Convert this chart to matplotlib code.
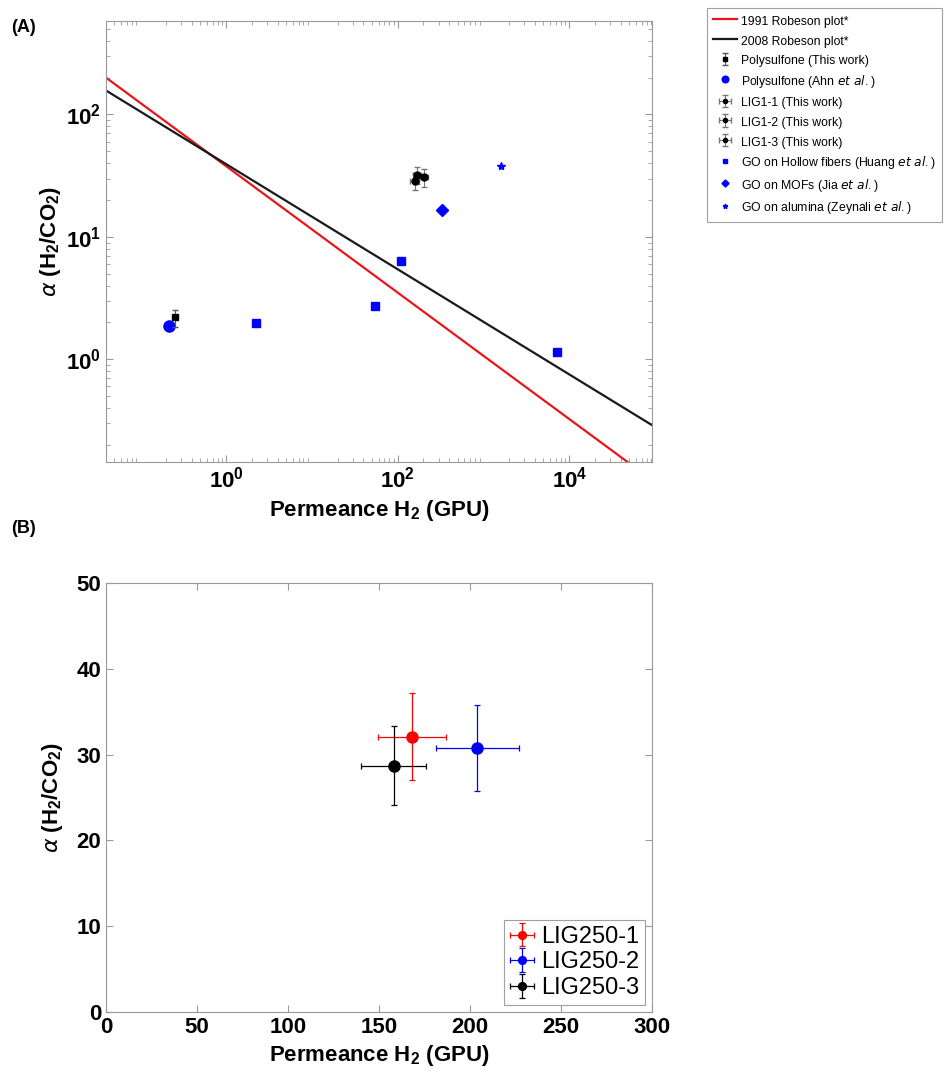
import matplotlib.pyplot as plt

plt.rcParams['font.family'] = ['Liberation Sans', 'DejaVu Sans']
plt.rcParams['mathtext.fontset'] = 'custom'
plt.rcParams['mathtext.rm'] = 'Liberation Sans'
plt.rcParams['mathtext.bf'] = 'Liberation Sans:bold'

# Robeson upper bounds (end points)
robeson_1991_x = [0.04, 1e5]
robeson_1991_y = [200, 0.099]
robeson_2008_x = [0.04, 1e5]
robeson_2008_y = [157, 0.28]

# literature / this work, panel A
psf_this_x, psf_this_y, psf_this_yerr = [0.255], [2.2], [0.35]
psf_ahn_x, psf_ahn_y = [0.214], [1.88]
huang_x = [2.26, 54, 110, 7100]
huang_y = [1.97, 2.71, 6.3, 1.14]
jia_x, jia_y = [333], [16.5]
zeynali_x, zeynali_y = [1620], [38]

# LIG membranes (panel B, also shown in panel A)
lig_names = ['LIG250-1', 'LIG250-2', 'LIG250-3']
lig_names_a = ['LIG1-1 (This work)', 'LIG1-2 (This work)', 'LIG1-3 (This work)']
lig_perm = [168, 204, 158]
lig_perm_err = [18.6, 22.7, 17.7]
lig_sel = [32.1, 30.8, 28.7]
lig_sel_err = [5.1, 5.0, 4.6]
lig_colors = ['red', 'blue', 'black']

fig = plt.figure(figsize=(9.5, 10.84), dpi=100)

# ---------- panel A ----------
ax1 = fig.add_axes([0.1116, 0.5738, 0.5747, 0.4068])
ax1.set_xscale('log')
ax1.set_yscale('log')
h = []
h += ax1.plot(robeson_1991_x, robeson_1991_y, color='#e8161c', lw=1.6, label='1991 Robeson plot*')
h += ax1.plot(robeson_2008_x, robeson_2008_y, color='#1a1a1a', lw=1.6, label='2008 Robeson plot*')
h.append(ax1.errorbar(psf_this_x, psf_this_y, yerr=psf_this_yerr, fmt='s', color='black', ms=5,
                      ecolor='#555555', elinewidth=0.8, capsize=2, label='Polysulfone (This work)', zorder=4))
h += ax1.plot(psf_ahn_x, psf_ahn_y, 'o', color='blue', ms=8, ls='none', label='Polysulfone (Ahn $\\it{et\\ al.}$)')
for i in range(3):
    h.append(ax1.errorbar([lig_perm[i]], [lig_sel[i]], xerr=[lig_perm_err[i]], yerr=[lig_sel_err[i]],
                          fmt='o', color='black', ms=5, ecolor='#777777', elinewidth=0.8, capsize=2,
                          label=lig_names_a[i], zorder=4))
h += ax1.plot(huang_x, huang_y, 's', color='blue', ms=6, ls='none', label='GO on Hollow fibers (Huang $\\it{et\\ al.}$)')
h += ax1.plot(jia_x, jia_y, 'D', color='blue', ms=6, ls='none', label='GO on MOFs (Jia $\\it{et\\ al.}$)')
h += ax1.plot(zeynali_x, zeynali_y, '*', color='blue', ms=6, ls='none', label='GO on alumina (Zeynali $\\it{et\\ al.}$)')
ax1.set_xlim(0.04, 9.2e4)
ax1.set_ylim(0.145, 580)
ax1.set_xticks([1, 100, 1e4])
ax1.set_yticks([1, 10, 100])
ax1.set_xlabel('Permeance H$_\\mathbf{2}$ (GPU)', fontsize=16, fontweight='bold', labelpad=4)
ax1.set_ylabel('$\\alpha$ (H$_\\mathbf{2}$/CO$_\\mathbf{2}$)', fontsize=16, fontweight='bold', labelpad=2)
leg1 = ax1.legend(handles=h, loc='upper left', bbox_to_anchor=(1.1, 1.03), fontsize=8.8, frameon=True,
                  fancybox=False, edgecolor='#888888', markerscale=0.6, handlelength=2.0,
                  handleheight=1.4, handletextpad=0.3, labelspacing=0.45, borderpad=0.5,
                  borderaxespad=0)
leg1.get_frame().set_linewidth(0.8)

# ---------- panel B ----------
ax2 = fig.add_axes([0.1116, 0.0664, 0.5747, 0.3958])
for i in range(3):
    ax2.errorbar([lig_perm[i]], [lig_sel[i]], xerr=[lig_perm_err[i]], yerr=[lig_sel_err[i]],
                 fmt='o', color=lig_colors[i], ms=8, elinewidth=0.9, capsize=2.5,
                 capthick=0.9, label=lig_names[i])
ax2.set_xlim(0, 300)
ax2.set_ylim(0, 50)
ax2.set_xticks(range(0, 301, 50))
ax2.set_yticks(range(0, 51, 10))
ax2.set_xlabel('Permeance H$_\\mathbf{2}$ (GPU)', fontsize=16, fontweight='bold', labelpad=4)
ax2.set_ylabel('$\\alpha$ (H$_\\mathbf{2}$/CO$_\\mathbf{2}$)', fontsize=16, fontweight='bold', labelpad=8)
leg2 = ax2.legend(loc='lower right', fontsize=17, frameon=True, fancybox=False,
                  edgecolor='#888888', handlelength=1.0, handletextpad=0.3,
                  labelspacing=0.15, borderpad=0.25, borderaxespad=0.3, markerscale=0.7)
leg2.get_frame().set_linewidth(0.8)

for ax in (ax1, ax2):
    for s in ax.spines.values():
        s.set_color('#999999')
        s.set_linewidth(0.8)
    ax.tick_params(which='both', direction='in', top=True, right=True, color='#999999')
    ax.tick_params(which='major', length=5, labelsize=16)
    ax.tick_params(which='minor', length=3)
    for lab in ax.get_xticklabels() + ax.get_yticklabels():
        lab.set_fontweight('bold')

fig.text(0.012, 0.975, '(A)', fontsize=13, fontweight='bold', va='center')
fig.text(0.012, 0.512, '(B)', fontsize=13, fontweight='bold', va='center')

fig.savefig('out.png', dpi=100)
